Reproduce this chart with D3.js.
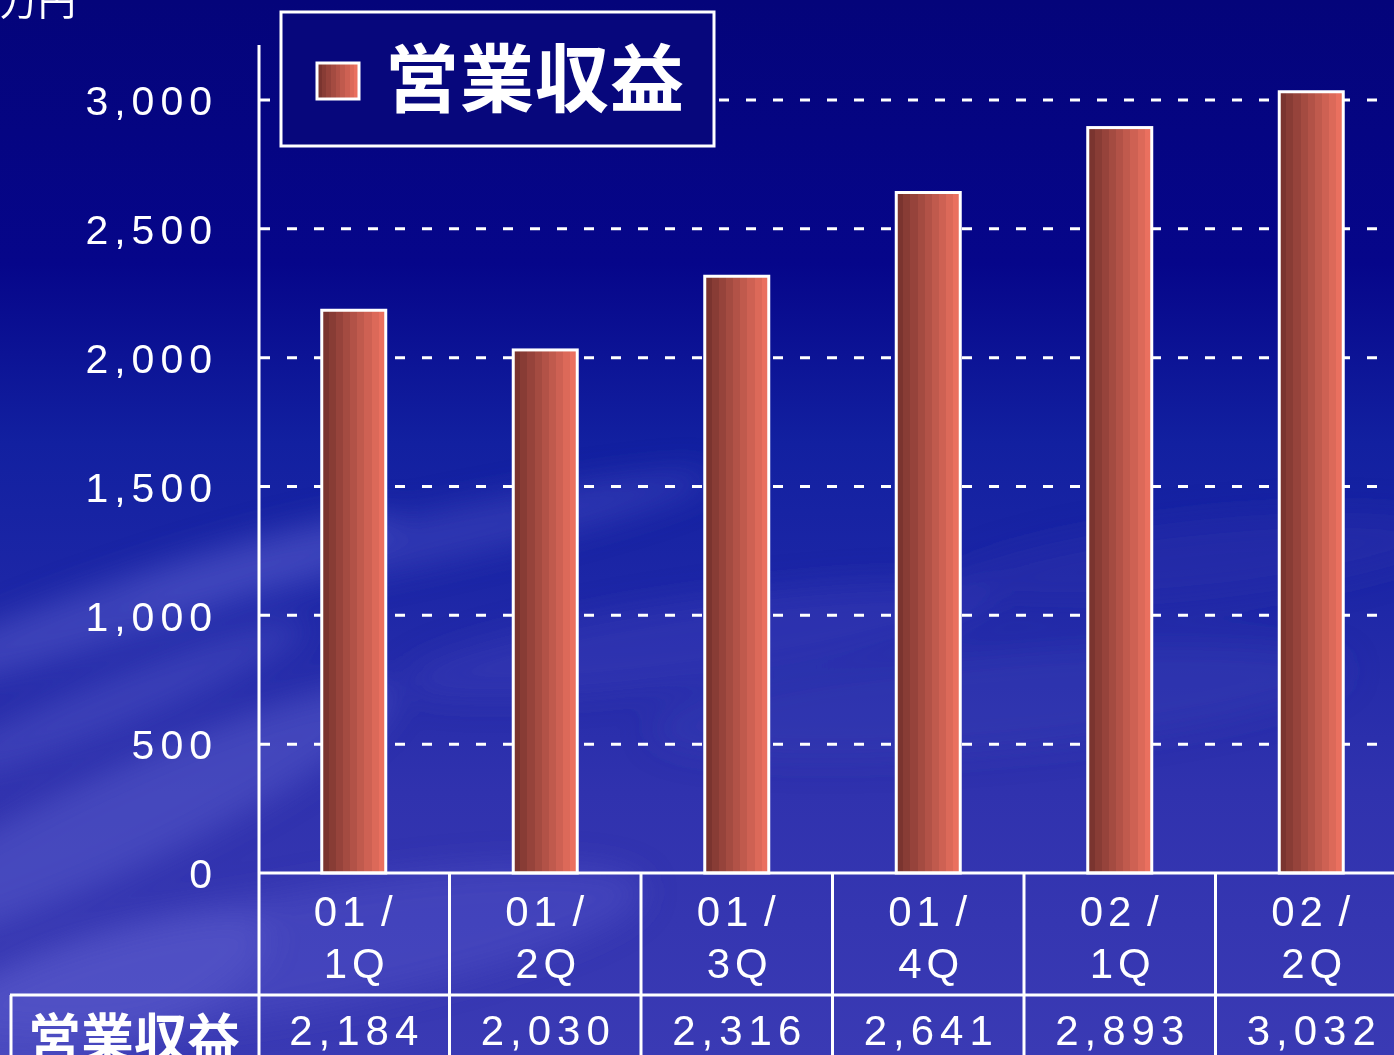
<!DOCTYPE html>
<html><head><meta charset="utf-8">
<script src="https://cdn.jsdelivr.net/npm/d3@7"></script>
<style>html,body{margin:0;padding:0;overflow:hidden;background:#06067a}</style>
</head><body>
<svg id="chart" width="1394" height="1055"></svg>
<script>
const categories = ["01 /|1Q","01 /|2Q","01 /|3Q","01 /|4Q","02 /|1Q","02 /|2Q"];
const values = [2184, 2030, 2316, 2641, 2893, 3032];
const valueLabels = ["2,184","2,030","2,316","2,641","2,893","3,032"];
const yTicks = [0, 500, 1000, 1500, 2000, 2500, 3000];
const seriesName = "営業収益";
const unitLabel = "万円";

const svg = d3.select("#chart");
const W = 1394, H = 1055;
const defs = svg.append("defs");

// background
const bg = defs.append("linearGradient").attr("id","bg").attr("x1",0).attr("y1",0).attr("x2",0).attr("y2",1);
[[0,"#04047a"],[0.25,"#06068a"],[0.42,"#1220a0"],[0.55,"#1c26a6"],[0.75,"#3032ae"],[1,"#3a3ab4"]].forEach(s=>bg.append("stop").attr("offset",s[0]).attr("stop-color",s[1]));
svg.append("rect").attr("width",W).attr("height",H).attr("fill","url(#bg)");
const blur = defs.append("filter").attr("id","blur").attr("x","-50%").attr("y","-50%").attr("width","200%").attr("height","200%");
blur.append("feGaussianBlur").attr("stdDeviation",16);
const clouds = svg.append("g").attr("filter","url(#blur)");
const cloudShapes = [[150,600,260,30,-18,"#5a5ccc",0.5],[420,540,300,25,-12,"#4a50c4",0.45],[120,820,300,50,-25,"#5a5ccc",0.5],[120,700,200,25,-22,"#5456c8",0.45],[700,640,300,40,-8,"#4446bc",0.35],[1000,700,350,50,-5,"#3c42b8",0.35],[300,950,350,60,-10,"#5a5acc",0.4],[1200,560,250,40,-6,"#3036ac",0.35],[80,1000,200,60,-20,"#6060d0",0.4]];
cloudShapes.forEach(c=>clouds.append("ellipse").attr("cx",c[0]).attr("cy",c[1]).attr("rx",c[2]).attr("ry",c[3]).attr("transform",`rotate(${c[4]},${c[0]},${c[1]})`).attr("fill",c[5]).attr("opacity",c[6]));

const x = d3.scaleBand().domain(categories).range([258, 258 + 6*191.5]).padding(0);
const y = d3.scaleLinear().domain([0, 3000]).range([873, 100]);
const barW = 64;
const font = "'Liberation Sans', Arial, sans-serif";

// grid lines
svg.append("g").selectAll("line").data(yTicks.filter(d=>d>0)).join("line")
  .attr("x1",260).attr("x2",W).attr("y1",d=>y(d)).attr("y2",d=>y(d))
  .attr("stroke","#fff").attr("stroke-width",3).attr("stroke-dasharray","10 17");

// y axis
const yAxis = d3.axisLeft(y).tickValues(yTicks).tickSize(0).tickPadding(40).tickFormat(d3.format(","));
const ya = svg.append("g").attr("transform","translate(258,0)").call(yAxis);
ya.select(".domain").remove();
ya.selectAll("text").attr("fill","#fff").attr("font-family",font)
  .attr("font-size",41).attr("letter-spacing",6).attr("dy","0.36em");
svg.append("line").attr("x1",259).attr("x2",259).attr("y1",45).attr("y2",873).attr("stroke","#fff").attr("stroke-width",3);

// bar gradient (stepped)
const bg2 = defs.append("linearGradient").attr("id","barg").attr("x1",0).attr("x2",1).attr("y1",0).attr("y2",0);
const steps = 9;
const cs = d3.interpolateRgb("#7a342f","#ea705f");
for(let i=0;i<steps;i++){
  const c = cs(i/(steps-1));
  bg2.append("stop").attr("offset",i/steps).attr("stop-color",c);
  bg2.append("stop").attr("offset",(i+1)/steps).attr("stop-color",c);
}
svg.append("g").selectAll("rect").data(values).join("rect")
  .attr("x",(d,i)=>x(categories[i]) + x.bandwidth()/2 - barW/2)
  .attr("y",d=>y(d)).attr("width",barW).attr("height",d=>y(0)-y(d))
  .attr("fill","url(#barg)").attr("stroke","#fff").attr("stroke-width",3);

// table
const tbl = svg.append("g");
tbl.append("line").attr("x1",258).attr("x2",W).attr("y1",873).attr("y2",873).attr("stroke","#fff").attr("stroke-width",3);
tbl.append("line").attr("x1",10).attr("x2",W).attr("y1",995).attr("y2",995).attr("stroke","#fff").attr("stroke-width",3);
tbl.append("line").attr("x1",11).attr("x2",11).attr("y1",995).attr("y2",H).attr("stroke","#fff").attr("stroke-width",3);
categories.forEach((c,i)=>{
  const x0 = x(c);
  tbl.append("line").attr("x1",x0+ (i===0?1:0)).attr("x2",x0+(i===0?1:0)).attr("y1",873).attr("y2",H).attr("stroke","#fff").attr("stroke-width",3);
  const cx = x0 + x.bandwidth()/2;
  const parts = c.split("|");
  tbl.append("text").attr("x",cx+2).attr("y",926).attr("text-anchor","middle").attr("fill","#fff")
    .attr("font-family",font).attr("font-size",42).attr("letter-spacing",5).attr("word-spacing",-6).text(parts[0]);
  tbl.append("text").attr("x",cx+3).attr("y",978).attr("text-anchor","middle").attr("fill","#fff")
    .attr("font-family",font).attr("font-size",42).attr("letter-spacing",5).text(parts[1]);
  tbl.append("text").attr("x",cx+3).attr("y",1045).attr("text-anchor","middle").attr("fill","#fff")
    .attr("font-family",font).attr("font-size",42).attr("letter-spacing",6).text(valueLabels[i]);
});
tbl.append("text").attr("x",134).attr("y",1058).attr("text-anchor","middle").attr("fill","#fff")
  .attr("font-family","'Noto Sans CJK JP', sans-serif").attr("font-weight",700).attr("font-size",53).text(seriesName);

// unit label
svg.append("text").attr("x",0).attr("y",15).attr("fill","#fff")
  .attr("font-family","'Noto Sans CJK JP', sans-serif").attr("font-size",38).text(unitLabel);

// legend
const lg = svg.append("g");
lg.append("rect").attr("x",281).attr("y",12).attr("width",433).attr("height",134)
  .attr("fill","#07077c").attr("stroke","#fff").attr("stroke-width",3);
lg.append("rect").attr("x",317).attr("y",63).attr("width",42).attr("height",36)
  .attr("fill","url(#barg)").attr("stroke","#fff").attr("stroke-width",3);
lg.append("text").attr("x",385).attr("y",106).attr("fill","#fff")
  .attr("font-family","'Noto Sans CJK JP', sans-serif").attr("font-weight",700).attr("font-size",74)
  .attr("letter-spacing",1).text(seriesName);
</script>
</body></html>
